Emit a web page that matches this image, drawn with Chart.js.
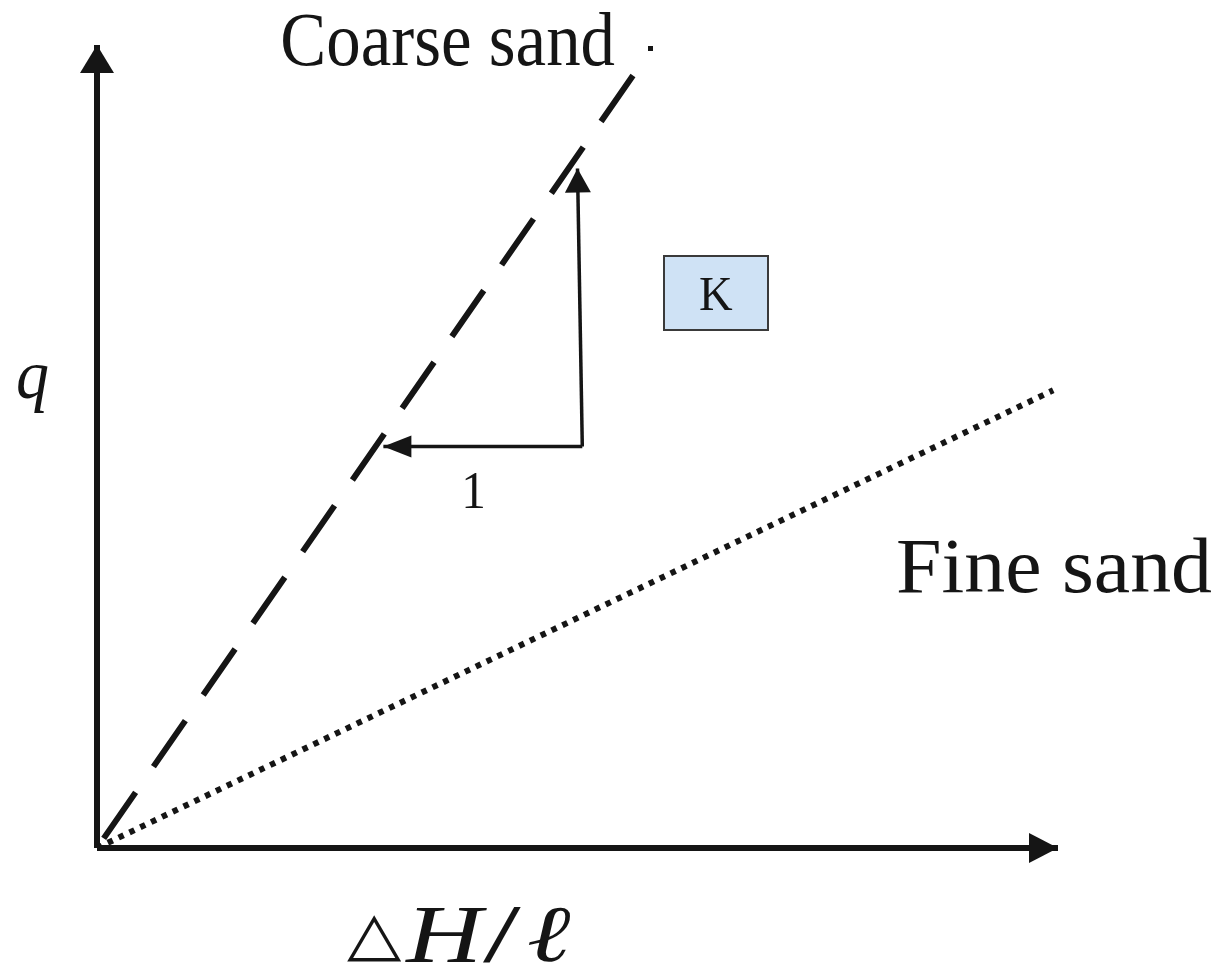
<!DOCTYPE html>
<html>
<head>
<meta charset="utf-8">
<title>Darcy q vs ΔH/l</title>
<script src="https://cdn.jsdelivr.net/npm/chart.js@4.4.1/dist/chart.umd.min.js"></script>
<style>
  html, body { margin: 0; padding: 0; background: #fff; }
  #wrap { width: 1228px; height: 968px; }
</style>
</head>
<body>
<div id="wrap"><canvas id="chart1" width="1228" height="968"></canvas></div>
<script>
  // ====== data (axis units, origin at 0,0) ======
  const coarseX = [0, 5.58];
  const coarseY = [0, 7.70];
  const fineX = [0, 9.95];
  const fineY = [0, 4.56];
  const xAxisX = [0, 10];
  const xAxisY = [0, 0];
  const yAxisX = [0, 0];
  const yAxisY = [0, 8];
  // slope triangle: corner -> rise / corner -> run
  const riseX = [5.05, 5.0];
  const riseY = [4.0, 6.77];
  const runX = [5.05, 2.98];
  const runY = [4.0, 4.0];

  const labelCoarse = 'Coarse sand';
  const labelFine = 'Fine sand';
  const labelK = 'K';
  const labelRun = '1';
  const labelQ = 'q';
  const labelX = ['△', 'H', '/', 'ℓ'];

  const INK = '#151515';
  const pts = (xs, ys) => xs.map((x, i) => ({ x, y: ys[i] }));

  // fits the ink box of a text into x0..x1 / y0..y1
  function fitText(ctx, text, font, x0, x1, y0, y1) {
    ctx.save();
    ctx.font = font;
    ctx.textAlign = 'left';
    ctx.textBaseline = 'alphabetic';
    const m = ctx.measureText(text);
    const w = m.actualBoundingBoxLeft + m.actualBoundingBoxRight;
    const h = m.actualBoundingBoxAscent + m.actualBoundingBoxDescent;
    ctx.translate(x0, y0);
    ctx.scale((x1 - x0) / w, (y1 - y0) / h);
    ctx.fillStyle = INK;
    ctx.fillText(text, m.actualBoundingBoxLeft, m.actualBoundingBoxAscent);
    ctx.restore();
  }

  function arrowHead(ctx, from, to, len, half) {
    const a = Math.atan2(to.y - from.y, to.x - from.x);
    ctx.save();
    ctx.translate(to.x, to.y);
    ctx.rotate(a);
    ctx.beginPath();
    ctx.moveTo(0, 0);
    ctx.lineTo(-len, -half);
    ctx.lineTo(-len, half);
    ctx.closePath();
    ctx.fillStyle = INK;
    ctx.fill();
    ctx.restore();
  }

  const decor = {
    id: 'decor',
    afterDatasetsDraw(chart) {
      const { ctx } = chart;
      // arrowheads at the end of axis / slope datasets
      chart.data.datasets.forEach((ds, i) => {
        if (!ds.arrow) return;
        const el = chart.getDatasetMeta(i).data;
        const a = el[0], b = el[el.length - 1];
        arrowHead(ctx, a, b, ds.arrow[0], ds.arrow[1]);
      });

      // K box
      ctx.save();
      ctx.fillStyle = '#cfe2f5';
      ctx.strokeStyle = '#3a3a3a';
      ctx.lineWidth = 2;
      ctx.fillRect(664, 256, 104, 74);
      ctx.strokeRect(664, 256, 104, 74);
      ctx.restore();

      const serif = '"Liberation Serif", "Times New Roman", serif';
      fitText(ctx, labelK, `48px ${serif}`, 700, 733, 278, 310);
      fitText(ctx, labelRun, `52px ${serif}`, 465, 483, 473, 508);
      fitText(ctx, labelCoarse, `78px ${serif}`, 283, 615, 12, 66);
      fitText(ctx, labelFine, `80px ${serif}`, 898, 1212, 537, 593);
      fitText(ctx, labelQ, `italic 66px ${serif}`, 18, 48, 365, 413);

      // dot after "Coarse sand"
      ctx.fillStyle = INK;
      ctx.fillRect(648, 46, 5, 5);

      // x axis title: △H/ℓ
      fitText(ctx, labelX[0], '72px "DejaVu Sans"', 347, 402, 915, 962);
      fitText(ctx, labelX[1], `italic 82px ${serif}`, 405, 487, 908, 962);
      fitText(ctx, labelX[2], `80px ${serif}`, 483, 522, 907, 962);
      fitText(ctx, labelX[3], `italic 80px ${serif}`, 528, 570, 907, 962);
    }
  };

  const lineDs = (data, opts) => Object.assign({
    data,
    showLine: true,
    pointRadius: 0,
    borderColor: INK,
    borderCapStyle: 'butt',
    clip: false,
    tension: 0
  }, opts);

  const ctx = document.getElementById('chart1');
  new Chart(ctx, {
    type: 'scatter',
    data: {
      datasets: [
        lineDs(pts(coarseX, coarseY), { label: 'Coarse sand', borderWidth: 6, borderDash: [56, 31.25], borderDashOffset: 75.5 }),
        lineDs(pts(fineX, fineY), { label: 'Fine sand', borderWidth: 6, borderDash: [5.5, 6.5] }),
        lineDs(pts(xAxisX, xAxisY), { label: 'x', borderWidth: 6, arrow: [29, 15] }),
        lineDs(pts(yAxisX, yAxisY), { label: 'y', borderWidth: 6, arrow: [28, 17] }),
        lineDs(pts(riseX, riseY), { label: 'rise', borderWidth: 3.5, arrow: [24, 13] }),
        lineDs(pts(runX, runY), { label: 'run', borderWidth: 3.5, arrow: [28, 11] })
      ]
    },
    options: {
      responsive: false,
      animation: false,
      events: [],
      layout: { padding: { left: 97, right: 170, top: 45, bottom: 120 } },
      plugins: { legend: { display: false }, tooltip: { enabled: false } },
      scales: {
        x: { type: 'linear', min: 0, max: 10, display: false },
        y: { type: 'linear', min: 0, max: 8, display: false }
      }
    },
    plugins: [decor]
  });
</script>
</body>
</html>
